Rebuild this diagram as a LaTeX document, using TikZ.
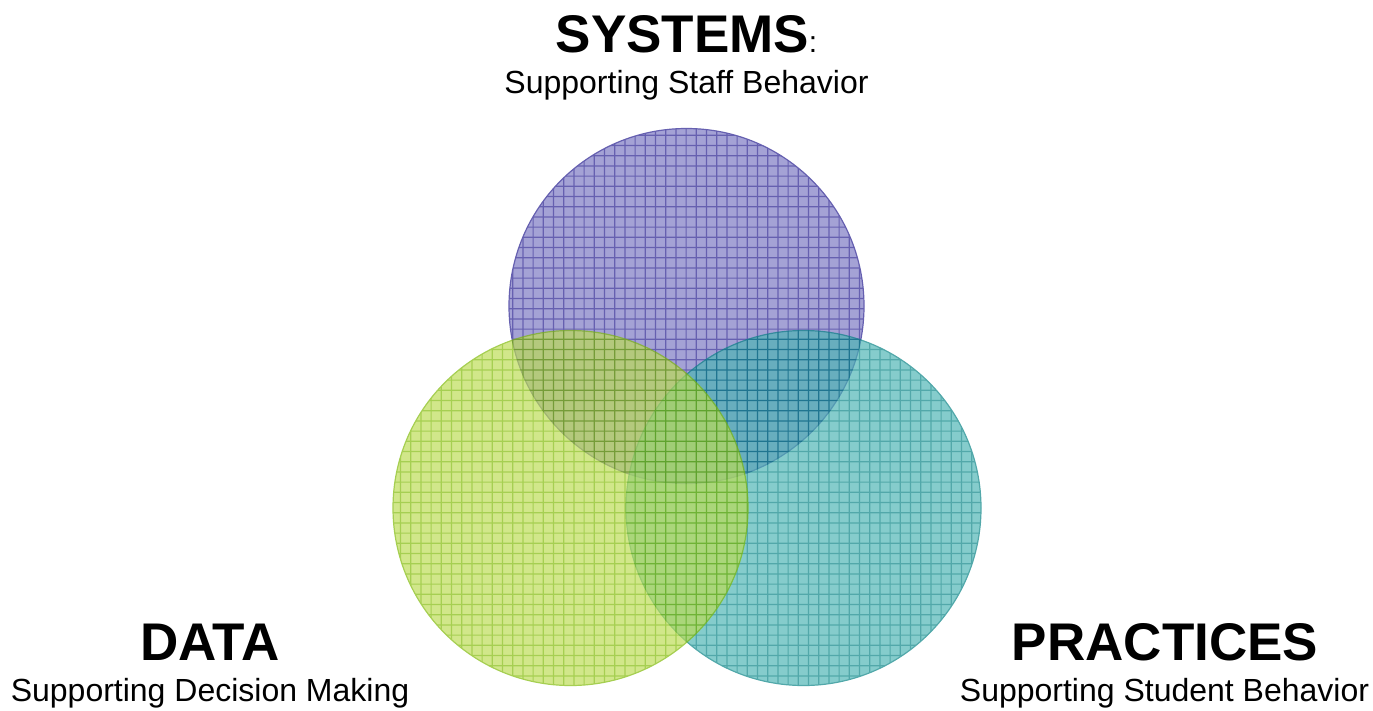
\documentclass[tikz,border=0pt]{standalone}
\usepackage{fontspec}
\setmainfont{Liberation Sans}
\begin{document}
\begin{tikzpicture}[x=1pt,y=-1pt,
  title/.style={font=\fontsize{53}{60}\selectfont\bfseries, anchor=base, inner sep=0pt},
  subtitle/.style={font=\fontsize{32}{38}\selectfont, anchor=base, inner sep=0pt}]
\definecolor{sysfill}{RGB}{122,119,194}
\definecolor{sysline}{RGB}{30,22,140}
\definecolor{datfill}{RGB}{188,220,84}
\definecolor{datline}{RGB}{125,185,0}
\definecolor{prafill}{RGB}{76,180,180}
\definecolor{praline}{RGB}{0,128,130}
\useasboundingbox (0,0) rectangle (1373,710);
\fill[white] (0,0) rectangle (1373,710);

% one grid-textured circle, drawn as a transparency group
\newcommand{\gridcircle}[4]{%
  \begin{scope}[transparency group, opacity=0.68]
    \fill[#3] (#1) circle[radius=#2];
    \begin{scope}
      \clip (#1) circle[radius=#2];
      \foreach \k in {0,...,135} {
        \draw[#4, line width=1.2pt] (\k*10.2+2.7,0) -- (\k*10.2+2.7,710);
      }
      \foreach \k in {0,...,70} {
        \draw[#4, line width=1.2pt] (0,\k*10.2+2.7) -- (1373,\k*10.2+2.7);
      }
    \end{scope}
    \draw[#4, line width=1.2pt] (#1) circle[radius=#2];
  \end{scope}}

\coordinate (csys) at (686.5,306);
\coordinate (cpra) at (803.5,508);
\coordinate (cdat) at (570.5,508);

\gridcircle{csys}{177.5}{sysfill}{sysline}
\gridcircle{cpra}{177.5}{prafill}{praline}
\gridcircle{cdat}{177.5}{datfill}{datline}

\node[title] (systems) at (686.5,52) {SYSTEMS{\mdseries\fontsize{30}{36}\selectfont:}};
\node[subtitle] (systemssub) at (686.5,93) {Supporting Staff Behavior};

\node[title] (data) at (210,660) {DATA};
\node[subtitle] (datasub) at (210,701) {Supporting Decision Making};

\node[title] (practices) at (1165,660) {PRACTICES};
\node[subtitle] (practicessub) at (1164.5,701) {Supporting Student Behavior};
\end{tikzpicture}
\end{document}
